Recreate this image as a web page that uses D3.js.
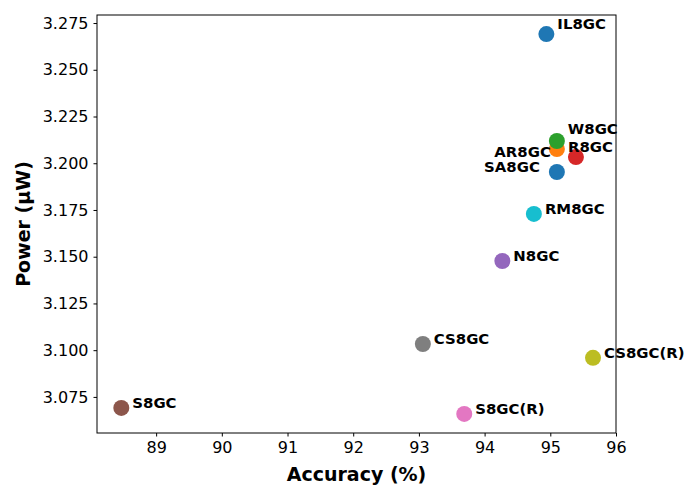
<!DOCTYPE html>
<html>
<head>
<meta charset="utf-8">
<script src="https://cdn.jsdelivr.net/npm/d3@7"></script>
<style>
  body { margin: 0; background: #fff; }
  .axis text { font-family: "DejaVu Sans", sans-serif; font-size: 16px; fill: #000; }
  .axis path, .axis line { stroke: #000; stroke-width: 1; }
  .lbl { font-family: "DejaVu Sans", sans-serif; font-size: 14.9px; font-weight: bold; }
</style>
</head>
<body>
<svg width="700" height="500"></svg>
<script>
// data
var names    = ["SA8GC", "AR8GC", "W8GC", "R8GC", "N8GC", "S8GC", "S8GC(R)", "CS8GC", "CS8GC(R)", "RM8GC", "IL8GC"];
var accuracy = [95.10, 95.10, 95.10, 95.39, 94.27, 88.47, 93.69, 93.06, 95.65, 94.75, 94.94];
var power    = [3.1953, 3.2076, 3.2119, 3.2033, 3.1477, 3.0691, 3.0659, 3.1033, 3.0959, 3.1729, 3.2691];
var colors   = ["#1f77b4", "#ff7f0e", "#2ca02c", "#d62728", "#9467bd", "#8c564b", "#e377c2", "#7f7f7f", "#bcbd22", "#17becf", "#1f77b4"];
var xTicks = [89, 90, 91, 92, 93, 94, 95, 96];
var yTicks = [3.075, 3.100, 3.125, 3.150, 3.175, 3.200, 3.225, 3.250, 3.275];

// label nudges (px) for the crowded cluster
var labelPos = {
  "IL8GC": {dx: 11, dy: -5, anchor: "start"},
  "W8GC":  {dx: 11, dy: -7, anchor: "start"},
  "R8GC":  {dx: -8, dy: -5, anchor: "start"},
  "AR8GC": {dx: -6, dy: 8, anchor: "end"},
  "SA8GC": {dx: -17, dy: 0, anchor: "end"}
};

var svg = d3.select("svg"),
    margin = {top: 15, right: 84, bottom: 67, left: 97},
    width = +svg.attr("width") - margin.left - margin.right,
    height = +svg.attr("height") - margin.top - margin.bottom;

var x = d3.scaleLinear().domain([88.1, 96]).range([0, width]),
    y = d3.scaleLinear().domain([3.0557, 3.2793]).range([height, 0]);

var g = svg.append("g")
    .attr("transform", "translate(" + margin.left + "," + margin.top + ")");

g.append("g")
    .attr("class", "axis")
    .attr("transform", "translate(0," + height + ")")
    .call(d3.axisBottom(x).tickValues(xTicks).tickFormat(d3.format("d")).tickSizeOuter(0).tickSize(3.5).tickPadding(5));

g.append("g")
    .attr("class", "axis")
    .call(d3.axisLeft(y).tickValues(yTicks).tickFormat(d3.format(".3f")).tickSizeOuter(0).tickSize(3.5).tickPadding(5));

g.selectAll(".axis .domain").remove();

g.append("rect")
    .attr("width", width)
    .attr("height", height)
    .attr("fill", "none")
    .attr("stroke", "#000")
    .attr("stroke-width", 1);

var pts = names.map(function(n, i) {
  return {name: n, acc: accuracy[i], pow: power[i], color: colors[i]};
});

g.selectAll("circle")
    .data(pts)
    .enter().append("circle")
    .attr("cx", function(d) { return x(d.acc); })
    .attr("cy", function(d) { return y(d.pow); })
    .attr("r", 8)
    .attr("fill", function(d) { return d.color; });

g.selectAll(".lbl")
    .data(pts)
    .enter().append("text")
    .attr("class", "lbl")
    .attr("x", function(d) { return x(d.acc) + (labelPos[d.name] ? labelPos[d.name].dx : 11); })
    .attr("y", function(d) { return y(d.pow) + (labelPos[d.name] ? labelPos[d.name].dy : 0); })
    .attr("text-anchor", function(d) { return labelPos[d.name] ? labelPos[d.name].anchor : "start"; })
    .text(function(d) { return d.name; });

svg.append("text")
    .attr("transform", "translate(" + (margin.left + width / 2) + ",481)")
    .attr("text-anchor", "middle")
    .style("font-family", "DejaVu Sans, sans-serif")
    .style("font-size", "19px")
    .style("font-weight", "bold")
    .text("Accuracy (%)");

svg.append("text")
    .attr("transform", "translate(30," + (margin.top + height / 2) + ")rotate(-90)")
    .attr("text-anchor", "middle")
    .style("font-family", "DejaVu Sans, sans-serif")
    .style("font-size", "19px")
    .style("font-weight", "bold")
    .text("Power (μW)");
</script>
</body>
</html>
